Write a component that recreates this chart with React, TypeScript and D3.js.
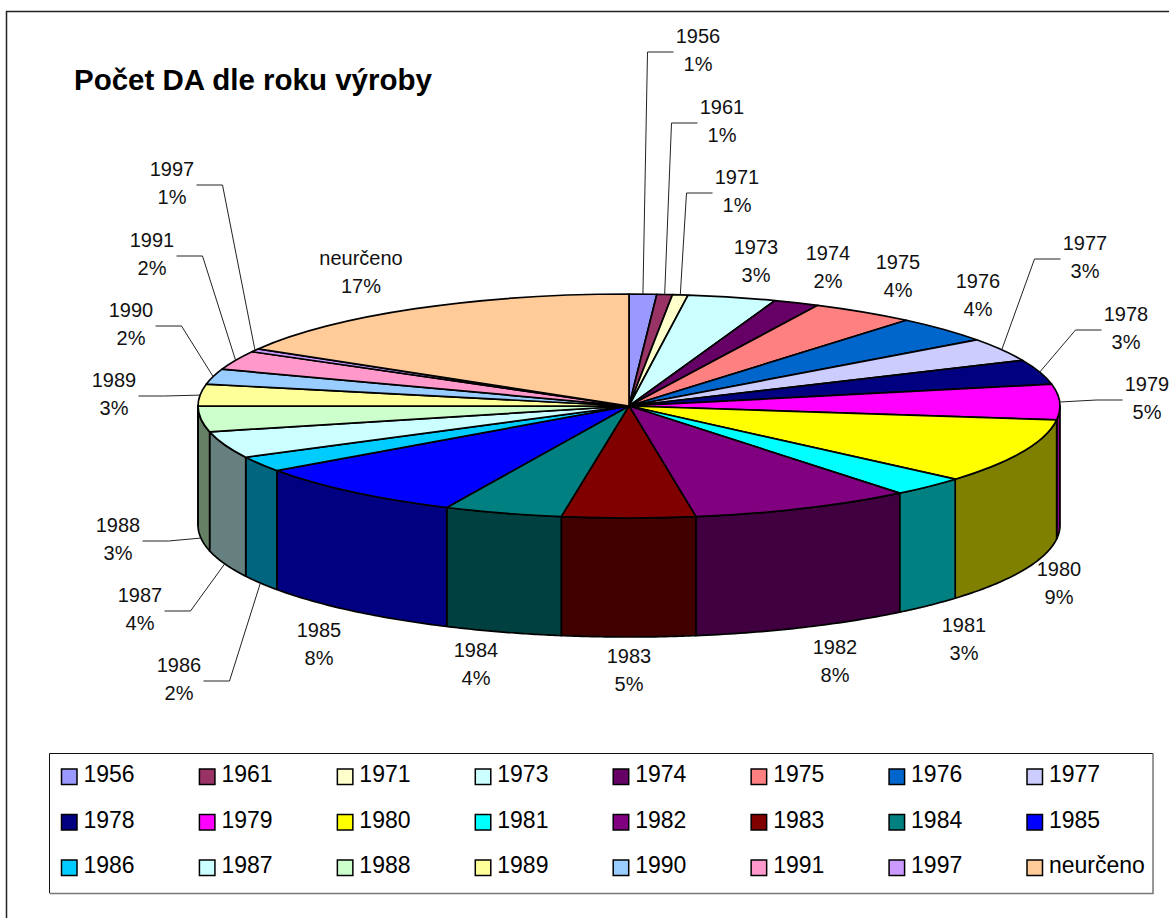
import React from "react";
import * as d3 from "d3";

// categories and values
const years = ["1956", "1961", "1971", "1973", "1974", "1975", "1976", "1977", "1978", "1979", "1980", "1981", "1982", "1983", "1984", "1985", "1986", "1987", "1988", "1989", "1990", "1991", "1997", "neurčeno"];
const shares = [1.03, 0.58, 0.58, 3.31, 1.72, 3.92, 3.81, 3.39, 3.56, 5.11, 9.36, 2.86, 8.33, 5.0, 4.44, 8.28, 2.22, 3.86, 3.69, 3.14, 2.22, 2.72, 0.45, 16.51];
const percentLabels = ["1%", "1%", "1%", "3%", "2%", "4%", "4%", "3%", "3%", "5%", "9%", "3%", "8%", "5%", "4%", "8%", "2%", "4%", "3%", "3%", "2%", "2%", "1%", "17%"];
const colors = ["#9999FF", "#993366", "#FFFFCC", "#CCFFFF", "#660066", "#FF8080", "#0066CC", "#CCCCFF", "#000080", "#FF00FF", "#FFFF00", "#00FFFF", "#800080", "#800000", "#008080", "#0000FF", "#00CCFF", "#CCFFFF", "#CCFFCC", "#FFFF99", "#99CCFF", "#FF99CC", "#CC99FF", "#FFCC99"];

// label layout: centre x, first baseline
const labelX = [698, 722, 737, 756, 828, 898, 978, 1085, 1126, 1147, 1059, 964, 835, 629, 476, 319, 179, 140, 118, 114, 131, 152, 172, 361];
const labelY = [43, 114, 184, 254, 260, 269, 288, 250, 321, 391, 576, 632, 654, 663, 657, 637, 672, 602, 532, 387, 317, 247, 176, 265];
// which labels get a leader line, and on which side of the label it leaves
const leaderSide: Record<string, number> = { "1956": -1, "1961": -1, "1971": -1, "1977": -1, "1978": -1, "1979": -1, "1986": 1, "1987": 1, "1988": 1, "1989": 1, "1990": 1, "1991": 1, "1997": 1 };

const width = 1169;
const height = 918;
const font = "'Liberation Sans', Arial, sans-serif";
const cx = 629;
const cy = 406;
const rx = 431;
const ry = 112;
const depth = 119;

const pie = d3.pie<number>().sort(null).value((d) => d);
const arcs = pie(shares);
const topArc = d3.arc<d3.PieArcDatum<number>>().innerRadius(0).outerRadius(rx);

const project = (a: number, dy = 0): [number, number] => [cx + rx * Math.sin(a), cy - ry * Math.cos(a) + dy];
const halfTone = (c: string) => {
  const k = d3.rgb(c);
  return d3.rgb(k.r / 2, k.g / 2, k.b / 2).formatHex();
};

function wallPath(a0: number, a1: number) {
  const from = Math.max(a0, Math.PI / 2);
  const to = Math.min(a1, (3 * Math.PI) / 2);
  if (to <= from) return null;
  const steps = d3.range(0, 41).map((i) => from + ((to - from) * i) / 40);
  const pts = [...steps.map((a) => project(a)), ...steps.slice().reverse().map((a) => project(a, depth))];
  return d3.line()(pts) + "Z";
}

function leaderPath(i: number) {
  const side = leaderSide[years[i]];
  if (!side) return null;
  const mid = (arcs[i].startAngle + arcs[i].endAngle) / 2;
  const lower = Math.cos(mid) < 0 && mid > Math.PI;
  const end = project(mid, lower && mid < (3 * Math.PI) / 2 ? depth : 0);
  const y = labelY[i] + 9;
  const start = labelX[i] + side * 24.5;
  return d3.line()([[start, y], [start + side * 26, y], end]);
}

const legendX = d3.scaleLinear().domain([0, 7]).range([61.5, 1027]);
const legendY = d3.scalePoint<number>().domain([0, 1, 2]).range([777, 868]);

export default function App() {
  return (
    <svg width={width} height={height} style={{ position: "absolute", left: 0, top: 0, display: "block", background: "#fff" }} fontFamily={font}>
      <path d={`M6.5,${height}V11.5H${width}`} fill="none" stroke="#222" strokeWidth={1.5} />
      <text x={74} y={90} fontSize={29.5} fontWeight="bold" fill="#000">Počet DA dle roku výroby</text>

      <g stroke="#000" strokeWidth={1.7} strokeLinejoin="round">
        {arcs.map((d, i) => {
          const p = wallPath(d.startAngle, d.endAngle);
          return p ? <path key={years[i]} d={p} fill={halfTone(colors[i])} /> : null;
        })}
      </g>
      <g transform={`translate(${cx},${cy}) scale(1,${ry / rx})`} stroke="#000" strokeLinejoin="round">
        {arcs.map((d, i) => (
          <path key={years[i]} d={topArc(d) as string} fill={colors[i]} strokeWidth={1.7} vectorEffect="non-scaling-stroke" />
        ))}
      </g>

      <g fill="none" stroke="#222" strokeWidth={1}>
        {years.map((y, i) => {
          const p = leaderPath(i);
          return p ? <path key={y} d={p} /> : null;
        })}
      </g>
      <g fontSize={20} textAnchor="middle" fill="#111">
        {years.map((y, i) => (
          <text key={y} x={labelX[i]} y={labelY[i]}>
            <tspan x={labelX[i]}>{y}</tspan>
            <tspan x={labelX[i]} dy={28}>{percentLabels[i]}</tspan>
          </text>
        ))}
      </g>

      <g>
        <path d="M49.5,893V753.5H1153" fill="none" stroke="#111" strokeWidth={1} />
        <path d="M49.5,893.5H1153V753.5" fill="none" stroke="#777" strokeWidth={1.5} />
        {years.map((y, i) => {
          const col = i % 8;
          const row = Math.floor(i / 8);
          const yy = legendY(row) as number;
          return (
            <g key={y}>
              <rect x={legendX(col)} y={yy - 8} width={15.5} height={15.5} fill={colors[i]} stroke="#000" strokeWidth={1.5} />
              <text x={legendX(col) + 22} y={yy + 5} fontSize={23} fill="#000">{y}</text>
            </g>
          );
        })}
      </g>
    </svg>
  );
}
